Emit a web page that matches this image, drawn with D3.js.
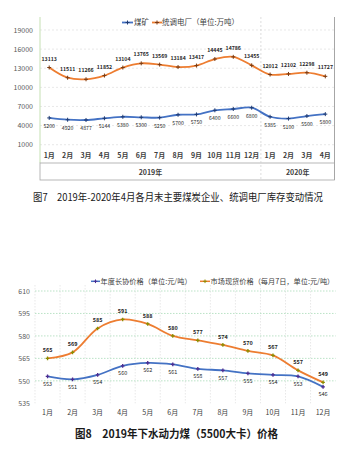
<!DOCTYPE html>
<html><head><meta charset="utf-8">
<script src="https://cdn.jsdelivr.net/npm/d3@7"></script>
<style>
html,body{margin:0;padding:0;background:#fff;}
svg text{font-family:"Noto Sans CJK SC","Noto Sans",sans-serif;}
</style></head>
<body>
<svg id="c" width="352" height="457"></svg>
<script>
// ---- Chart 1 data ----
const months1 = ["1月","2月","3月","4月","5月","6月","7月","8月","9月","10月","11月","12月","1月","2月","3月","4月"];
const years1 = ["2019年","2020年"];
const coalMine = [5200,4920,4877,5144,5380,5300,5250,5700,5750,6400,6600,6800,5385,5100,5500,5800];
const powerPlant = [13113,11511,11266,11852,13104,13765,13569,13184,13417,14445,14786,13455,12012,12102,12298,11727];
const ticks1 = [1000,4000,7000,10000,13000,16000,19000];
const legend1 = ["煤矿","统调电厂（单位:万吨）"];
const caption1 = "图7　2019年-2020年4月各月末主要煤炭企业、统调电厂库存变动情况";

// ---- Chart 2 data ----
const months2 = ["1月","2月","3月","4月","5月","6月","7月","8月","9月","10月","11月","12月"];
const contractPrice = [553,551,554,560,562,561,558,557,555,554,553,546];
const spotPrice = [565,569,585,591,588,580,577,574,570,567,557,549];
const ticks2 = [535,550,565,580,595,610];
const legend2 = ["年度长协价格（单位:元/吨）","市场现货价格（每月7日，单位:元/吨）"];
const caption2 = "图8　2019年下水动力煤（5500大卡）价格";

const svg = d3.select("#c");
const ORANGE = "#ED7D31", BLUE = "#4472C4";

// ================= Chart 1 =================
(function(){
  const L = 40, R = 334.5, T = 17, B = 163;
  const x = d3.scaleBand().domain(d3.range(months1.length)).range([L, R]);
  const y = d3.scaleLinear().domain([1000,19000]).range([144.7, 30]);
  const g = svg.append("g");
  g.selectAll(".gl").data(ticks1).join("line")
    .attr("x1", L).attr("x2", R).attr("y1", d=>y(d)).attr("y2", d=>y(d))
    .attr("stroke","#d9d9d9").attr("stroke-width",0.6).attr("stroke-dasharray","2,2");
  g.append("line").attr("x1",L).attr("x2",L).attr("y1",T).attr("y2",B).attr("stroke","#c5e0b3").attr("stroke-width",1);
  g.append("line").attr("x1",R).attr("x2",R).attr("y1",T).attr("y2",180).attr("stroke","#a6a6a6").attr("stroke-width",1);
  g.append("rect").attr("x",L).attr("y",B).attr("width",R-L).attr("height",17)
    .attr("fill","none").attr("stroke","#a6a6a6").attr("stroke-width",0.8);
  const sepX = x(12);
  g.append("line").attr("x1",sepX).attr("x2",sepX).attr("y1",T).attr("y2",180)
    .attr("stroke","#d0d0d0").attr("stroke-width",0.7).attr("stroke-dasharray","2,2");
  const ya = d3.axisLeft(y).tickValues(ticks1).tickFormat(d3.format("d")).tickSize(0).tickPadding(0);
  const yg = g.append("g").attr("transform","translate(33,0)").call(ya);
  yg.select(".domain").remove();
  yg.selectAll("text").attr("font-size",7).attr("fill","#595959").attr("font-family","Liberation Sans, Arial, sans-serif");
  const xa = d3.axisBottom(x).tickFormat(i=>months1[i]).tickSize(0).tickPadding(0);
  const xg = g.append("g").attr("transform","translate(0,153.5)").call(xa);
  xg.select(".domain").remove();
  xg.selectAll("text").attr("font-size",7).attr("fill","#404040").attr("font-weight","bold");
  const yearSpans = [[0,11],[12,15]];
  g.selectAll(".yr").data(years1).join("text")
    .attr("x",(d,i)=>(x(yearSpans[i][0]) + x(yearSpans[i][1]) + x.bandwidth())/2)
    .attr("y",174.5).attr("text-anchor","middle").attr("font-size",7).attr("font-weight","bold").attr("fill","#404040")
    .text(d=>d);
  const cx = i => x(i) + x.bandwidth()/2;
  const line = d3.line().x((d,i)=>cx(i)).y(d=>y(d)).curve(d3.curveCatmullRom.alpha(0.5));
  [[powerPlant,ORANGE,"#7a3b12",-7],[coalMine,BLUE,"#1f3b73",10]].forEach(([data,col,mk,off])=>{
    g.append("path").attr("d",line(data)).attr("fill","none").attr("stroke",col).attr("stroke-width",1.8);
    data.forEach((v,i)=>{
      const px = cx(i), py = y(v);
      g.append("path").attr("d",`M${px-2},${py}H${px+2}M${px},${py-2}V${py+2}`).attr("stroke",mk).attr("stroke-width",1);
      g.append("text").attr("x",px).attr("y",py+off).attr("text-anchor","middle")
        .attr("font-size",5.2).attr("fill","#262626").attr("font-weight", off<0?"bold":"normal")
        .attr("font-family","Liberation Sans, Arial, sans-serif").text(v);
    });
  });
  const lg = g.append("g").attr("transform","translate(0,22.5)");
  lg.append("line").attr("x1",122).attr("x2",133).attr("y1",0).attr("y2",0).attr("stroke",BLUE).attr("stroke-width",1.8);
  lg.append("path").attr("d","M125.5,0H129.5M127.5,-2V2").attr("stroke","#1f3b73");
  lg.append("text").attr("x",134).attr("y",2.5).attr("font-size",7.5).attr("fill","#404040").text(legend1[0]);
  lg.append("line").attr("x1",152).attr("x2",162).attr("y1",0).attr("y2",0).attr("stroke",ORANGE).attr("stroke-width",1.8);
  lg.append("path").attr("d","M155,0H159M157,-2V2").attr("stroke","#7a3b12");
  lg.append("text").attr("x",162).attr("y",2.5).attr("font-size",7.5).attr("fill","#404040").text(legend1[1]);
  svg.append("text").attr("x",178).attr("y",200.5).attr("text-anchor","middle")
    .attr("font-size",10).attr("fill","#1a1a1a").attr("textLength",290).attr("lengthAdjust","spacingAndGlyphs")
    .text(caption1);
})();

// ================= Chart 2 =================
(function(){
  const L = 35, R = 335.6;
  const x = d3.scaleBand().domain(d3.range(months2.length)).range([L, R]);
  const y = d3.scaleLinear().domain([535,610]).range([403.3, 291]);
  const g = svg.append("g");
  const vb = d3.range(months2.length).map(i=>x(i));
  g.selectAll(".vg").data(vb).join("line")
    .attr("x1",d=>d).attr("x2",d=>d).attr("y1",285).attr("y2",403.3)
    .attr("stroke","#d9d9d9").attr("stroke-width",0.6).attr("stroke-dasharray","1.5,1.5");
  g.selectAll(".hg").data(ticks2.filter(t=>t!==535)).join("line")
    .attr("x1",L).attr("x2",R).attr("y1",d=>y(d)).attr("y2",d=>y(d))
    .attr("stroke","#a9dcb9").attr("stroke-width",0.8).attr("stroke-dasharray","1.5,1.5");
  const yg = g.append("g").attr("transform","translate(30,0)").call(d3.axisLeft(y).tickValues(ticks2).tickSize(0).tickPadding(0));
  yg.select(".domain").remove();
  yg.selectAll("text").attr("font-size",7).attr("fill","#595959").attr("font-family","Liberation Sans, Arial, sans-serif");
  const xg = g.append("g").attr("transform","translate(0,410.5)").call(d3.axisBottom(x).tickFormat(i=>months2[i]).tickSize(0).tickPadding(0));
  xg.select(".domain").remove();
  xg.selectAll("text").attr("font-size",7).attr("fill","#404040");
  const cx = i => x(i) + x.bandwidth()/2;
  const line = d3.line().x((d,i)=>cx(i)).y(d=>y(d)).curve(d3.curveCatmullRom.alpha(0.5));
  [[contractPrice,BLUE,"#4b2c91",9.5],[spotPrice,ORANGE,"#8c8c00",-6]].forEach(([data,col,mk,off])=>{
    g.append("path").attr("d",line(data)).attr("fill","none").attr("stroke",col).attr("stroke-width",1.8);
    data.forEach((v,i)=>{
      const px = cx(i), py = y(v);
      g.append("path").attr("d",`M${px-1.8},${py}H${px+1.8}M${px},${py-1.8}V${py+1.8}`).attr("stroke",mk).attr("stroke-width",1.3);
      g.append("text").attr("x",px).attr("y",py+off).attr("text-anchor","middle")
        .attr("font-size",5.5).attr("fill","#262626").attr("font-weight", off<0?"bold":"normal")
        .attr("font-family","Liberation Sans, Arial, sans-serif").text(v);
    });
  });
  const lg = g.append("g").attr("transform","translate(0,281.3)");
  lg.append("line").attr("x1",91).attr("x2",100).attr("y1",0).attr("y2",0).attr("stroke",BLUE).attr("stroke-width",1.5);
  lg.append("path").attr("d","M93.7,0H97.3M95.5,-1.8V1.8").attr("stroke","#4b2c91");
  lg.append("text").attr("x",100.5).attr("y",2.5).attr("font-size",7.2).attr("fill","#404040").text(legend2[0]);
  lg.append("line").attr("x1",200).attr("x2",210).attr("y1",0).attr("y2",0).attr("stroke",ORANGE).attr("stroke-width",1.5);
  lg.append("path").attr("d","M203.2,0H206.8M205,-1.8V1.8").attr("stroke","#8c8c00");
  lg.append("text").attr("x",210.5).attr("y",2.5).attr("font-size",7.2).attr("fill","#404040").text(legend2[1]);
  svg.append("text").attr("x",176.5).attr("y",437.5).attr("text-anchor","middle")
    .attr("font-size",11).attr("font-weight","bold").attr("fill","#1a1a1a").attr("textLength",203).attr("lengthAdjust","spacingAndGlyphs")
    .text(caption2);
})();
</script>
</body></html>
